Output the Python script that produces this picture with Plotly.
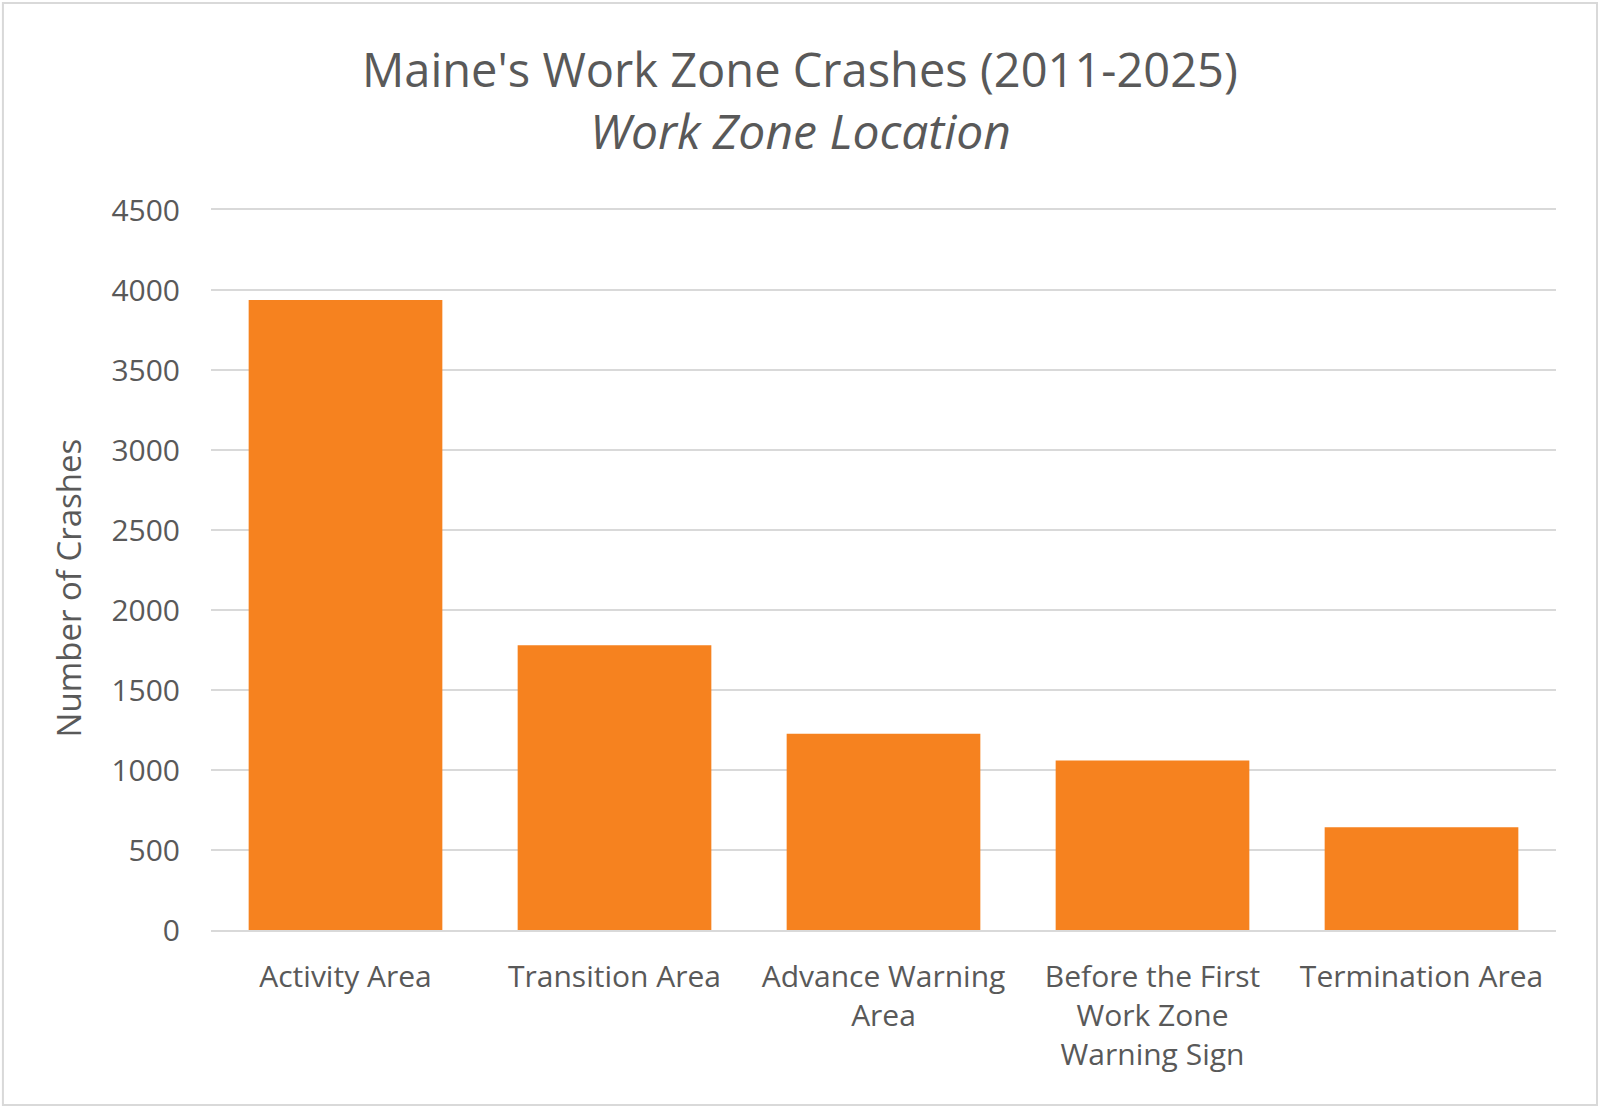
import plotly.graph_objects as go

# work zone location categories and crash counts (2011-2025)
locations = [
    "Activity Area",
    "Transition Area",
    "Advance Warning<br>Area",
    "Before the First<br>Work Zone<br>Warning Sign",
    "Termination Area",
]
crashes = [3937, 1779, 1227, 1060, 642]

y_ticks = list(range(0, 5000, 500))

TEXT = "#595959"
GRID = "#d9d9d9"
FONT = "Open Sans"

fig = go.Figure()
fig.add_trace(go.Bar(
    x=locations,
    y=crashes,
    marker=dict(color="#F6821F", line=dict(width=0)),
    hoverinfo="x+y",
))

fig.update_layout(
    width=1600,
    height=1107,
    margin=dict(l=211, r=44, t=210, b=177),
    plot_bgcolor="white",
    paper_bgcolor="white",
    font=dict(family=FONT, color=TEXT, size=30),
    showlegend=False,
    bargap=0.28,
    xaxis=dict(
        showgrid=False,
        showline=True,
        mirror=True,  # top edge doubles as the 4500 gridline
        linecolor=GRID,
        linewidth=2,
        ticks="",
        ticklabelstandoff=19,
        tickfont=dict(size=30, color=TEXT),
    ),
    yaxis=dict(
        range=[0, 4500],
        tickvals=y_ticks,
        showgrid=True,
        gridcolor=GRID,
        gridwidth=2,
        zeroline=False,
        showline=False,
        ticks="",
        ticklabelstandoff=30,
        tickfont=dict(size=30, color=TEXT),
    ),
)

# chart title, two lines
fig.add_annotation(
    text="Maine's Work Zone Crashes (2011-2025)",
    xref="paper", yref="paper", x=0.438, y=1.196,
    xanchor="center", yanchor="middle", showarrow=False,
    font=dict(size=47, color=TEXT, family=FONT),
)
fig.add_annotation(
    text="<i>Work Zone Location</i>",
    xref="paper", yref="paper", x=0.438, y=1.110,
    xanchor="center", yanchor="middle", showarrow=False,
    font=dict(size=48, color=TEXT, family=FONT),
)
# y axis title
fig.add_annotation(
    text="Number of Crashes",
    xref="paper", yref="paper", x=-0.106, y=0.475,
    xanchor="center", yanchor="middle", showarrow=False,
    textangle=-90,
    font=dict(size=33, color=TEXT, family=FONT),
)

# light frame round the whole chart
fig.add_shape(
    type="rect", xref="paper", yref="paper",
    x0=-0.1547, x1=1.0305, y0=-0.243, y1=1.2875,
    line=dict(color=GRID, width=2),
    layer="below",
)

# drop the page's default body margin so the chart sits at the window edge
fig.write_html(
    "out.html",
    config={"displayModeBar": False},
    post_script="document.body.style.margin='0';",
)
